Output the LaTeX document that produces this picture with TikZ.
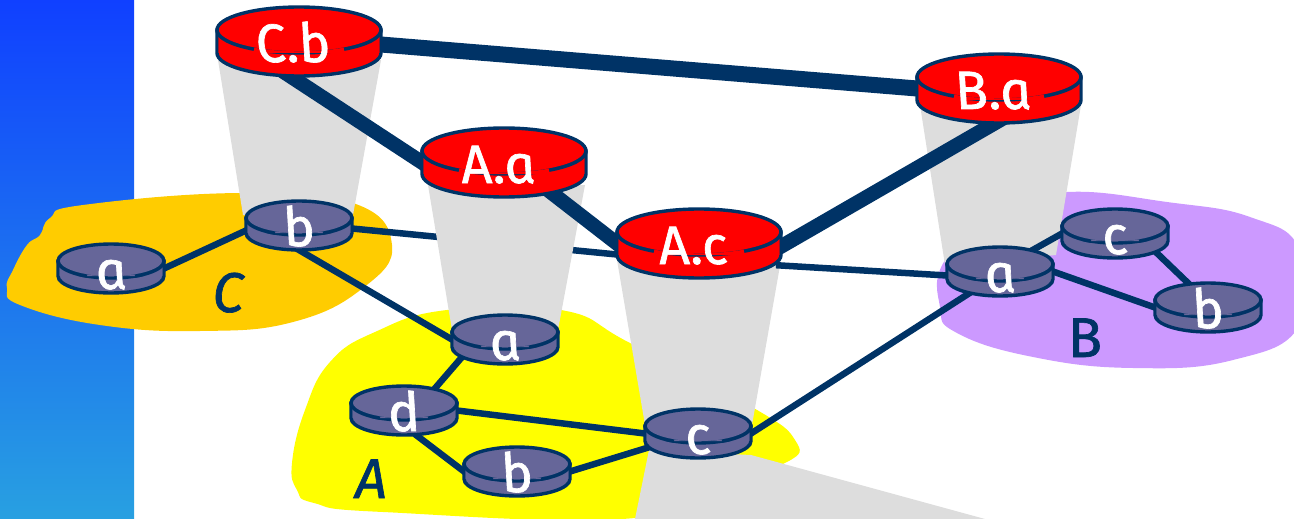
\documentclass[tikz,border=0pt]{standalone}
\usepackage{fontspec}
\usetikzlibrary{calc}
\newfontfamily\lab[ItalicFeatures={FakeSlant=-0.2,FakeBold=1.2}]{Fira Sans}
\newfontfamily\labi[ItalicFeatures={FakeBold=1.2},UprightFeatures={FakeBold=1.2}]{Fira Sans}
\definecolor{navy}{HTML}{003366}
\definecolor{routerblue}{HTML}{666699}
\definecolor{conegray}{HTML}{DDDDDD}
\definecolor{blobC}{HTML}{FFCC00}
\definecolor{blobA}{HTML}{FFFF00}
\definecolor{blobB}{HTML}{CC99FF}
\definecolor{pure}{HTML}{FF0000}
\pgfdeclarelayer{blobs}\pgfdeclarelayer{under}\pgfdeclarelayer{cones}\pgfdeclarelayer{links}
\pgfsetlayers{blobs,under,cones,links,main}
\tikzset{
 routerline/.style={draw=navy,line width=3.4pt},
 routerbox/.style={inner sep=0pt,outer sep=0pt,rectangle},
 routerlabel/.style={anchor=base,text=white,inner sep=0pt,font=\lab\itshape\fontsize{54}{54}\selectfont},
 aslabel/.style={anchor=base,text=navy,inner sep=0pt,font=\labi\fontsize{56}{56}\selectfont},
 thinlink/.style={draw=navy,line width=6.5pt},
 thicklink/.style={draw=navy,line width=14.5pt},
 cone/.style={fill=conegray},
 blobshape/.style={smooth cycle,tension=0.75},
}
\newcommand\router[4]{\begin{scope}[shift={(#2,-#3)}]
 \path[routerline,fill=\Rc] (-\Rx,0) -- (-\Rx,-\Rh) arc[start angle=180,end angle=360,x radius=\Rx,y radius=\Ry] -- (\Rx,0) -- cycle;
 \path[routerline,fill=\Rc] (0,0) ellipse[x radius=\Rx,y radius=\Ry];
 \path[fill=\Rc] (-\Rx+1.7,0) -- (-\Rx+1.7,-\Rh) -- (\Rx-1.7,-\Rh) -- (\Rx-1.7,0) arc[start angle=0,end angle=-180,x radius=\Rx-1.7,y radius=\Ry-1.7] -- cycle;
 \draw[routerline] (-\Rx,0) arc[start angle=180,end angle=180+\Rg,x radius=\Rx,y radius=\Ry];
 \draw[routerline] (\Rx,0) arc[start angle=0,end angle=-\Rg,x radius=\Rx,y radius=\Ry];
 \node[routerbox,minimum width={2*\Rx pt},minimum height={(2*\Ry+\Rh)*1pt}] (#1) at (0,-\Rh/2) {};
 \node[routerlabel] (#1-label) at (\Rs,-\Rb) {#4};
\end{scope}}
\newcommand\redrouter{\def\Rx{82}\def\Ry{23}\def\Rh{23}\def\Rg{56.6}\def\Rb{32}\def\Rs{-3}\def\Rc{pure}\router}
\newcommand\bluerouter{\def\Rx{53}\def\Ry{17}\def\Rh{15}\def\Rg{63}\def\Rb{28}\def\Rs{3}\def\Rc{routerblue}\router}
\begin{document}
\begin{tikzpicture}[x=1pt,y=1pt]
\useasboundingbox (0,0) rectangle (1294,-519);
\clip (0,0) rectangle (1294,-519);
% routers
\redrouter{cb}{299}{30}{C.b}
\redrouter{ba}{999}{77}{B.a}
\redrouter{aa}{504}{151}{A.a}
\redrouter{ac}{699}{232}{A.c}
\bluerouter{Ca}{111}{261}{a}
\bluerouter{Cb}{299}{218}{b}
\bluerouter{Aa}{505}{332}{a}
\bluerouter{Ad}{404}{403}{d}
\bluerouter{Ab}{517}{464}{b}
\bluerouter{Ac}{698}{426}{c}
\bluerouter{Ba}{1000}{264}{a}
\bluerouter{Bc}{1115}{226}{c}
\bluerouter{Bb}{1208}{300}{b}
\node[aslabel] (labelC) at (228,-312) {\itshape C};
\node[aslabel] (labelA) at (371,-498) {\itshape A};
\node[aslabel] (labelB) at (1085,-357) {B};
% backdrop
\begin{pgfonlayer}{blobs}
\shade[top color={rgb,255:red,16;green,64;blue,255},bottom color={rgb,255:red,40;green,160;blue,225}] (0,0) rectangle (134,-519);
\fill[blobC] plot[blobshape] coordinates {(27,-245) (40,-235) (50,-218) (83,-205) (240,-193) (353,-203) (392,-245) (363,-288) (293,-322) (200,-331) (100,-325) (20,-305) (7,-288) (13,-270)};
\fill[blobA] plot[blobshape] coordinates {(292,-463) (297,-490) (314,-503) (383,-512) (635,-518) (720,-480) (787,-462) (795,-440) (752,-407) (630,-343) (561,-310) (447,-310) (375,-332) (330,-362) (305,-410)};
\fill[blobB] plot[blobshape] coordinates {(1067,-192) (1167,-202) (1250,-217) (1300,-250) (1300,-325) (1233,-360) (1133,-368) (1033,-357) (957,-333) (940,-307) (945,-260) (1000,-210)};
\end{pgfonlayer}
\begin{pgfonlayer}{under}
\draw[thinlink] ([yshift=-3pt]Cb.east) -- ([yshift=-11pt]ac.west);
\end{pgfonlayer}
\begin{pgfonlayer}{cones}
\fill[cone] (218,-60) -- (381,-60) -- (353,-215) -- (243,-215) -- cycle;
\fill[cone] (920,-105) -- (1081,-105) -- (1056,-255) -- (945,-265) -- cycle;
\fill[cone] (428,-185) -- (585,-185) -- (558,-330) -- (452,-330) -- cycle;
\fill[cone] (617,-260) -- (781,-260) -- (752,-425) -- (645,-425) -- cycle;
\fill[cone] (649,-450) -- (635,-519) -- (985,-519) -- (751,-455) -- cycle;
\end{pgfonlayer}
\begin{pgfonlayer}{links}
\draw[thicklink,line width=16pt] ([yshift=-3pt]cb.east) -- (ba.west);
\draw[thicklink,shorten <=-14pt,shorten >=-10pt] ([xshift=-9pt]cb.south) -- (aa.west);
\draw[thicklink,shorten <=-14pt,shorten >=-10pt] ([xshift=53pt]aa.south) -- (ac.west);
\draw[thicklink,shorten <=-10pt,shorten >=-14pt] ([yshift=-3pt]ac.east) -- ([xshift=-4pt]ba.south);
\draw[thinlink,shorten <=-5pt,shorten >=-5pt] (Ca.east) -- ([yshift=-5pt]Cb.west);
\draw[thinlink,shorten <=-8pt,shorten >=-5pt] (Cb.south) -- (Aa.west);
\draw[thinlink,shorten <=-10pt,shorten >=-10pt] ([xshift=-49pt]Aa.south) -- ([xshift=33pt]Ad.north);
\draw[thinlink,shorten <=-5pt,shorten >=-5pt] (Ad.east) -- (Ac.west);
\draw[thinlink,shorten <=-10pt,shorten >=-5pt] ([xshift=12pt]Ad.south) -- (Ab.west);
\draw[thinlink,shorten <=-5pt,shorten >=-5pt] (Ab.east) -- ([yshift=-15pt]Ac.west);
\draw[thinlink,shorten <=-5pt,shorten >=-12pt] (Ac.east) -- ([xshift=-35pt]Ba.south);
\draw[thinlink,shorten <=-5pt,shorten >=-5pt] ([yshift=-22pt]ac.east) -- ([yshift=-4pt]Ba.west);
\draw[thinlink,shorten <=-12pt,shorten >=-5pt] ([xshift=38pt]Ba.north) -- (Bc.west);
\draw[thinlink,shorten <=-5pt,shorten >=-5pt] (Ba.east) -- (Bb.west);
\draw[thinlink,shorten <=-12pt,shorten >=-10pt] ([xshift=47pt]Bc.south) -- ([xshift=-20pt]Bb.north);
\end{pgfonlayer}
\end{tikzpicture}
\end{document}
